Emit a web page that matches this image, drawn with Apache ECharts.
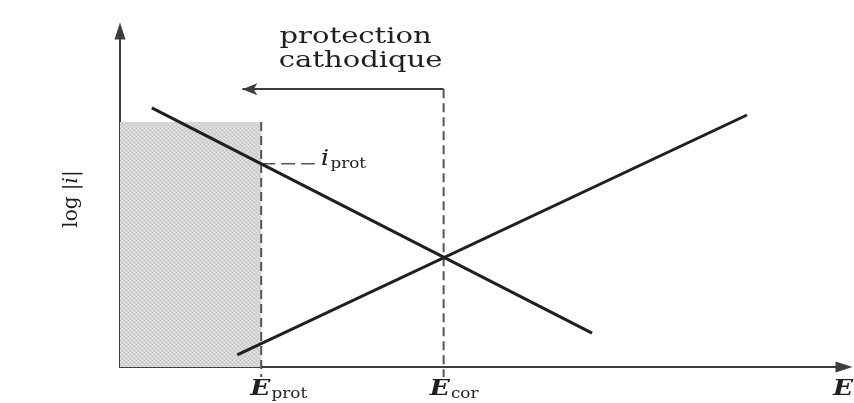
<!DOCTYPE html>
<html>
<head>
<meta charset="utf-8">
<script src="https://cdn.jsdelivr.net/npm/echarts@6/dist/echarts.min.js"></script>
<style>
  html, body { margin: 0; padding: 0; background: #fff; }
  #chart { width: 854px; height: 403px; }
</style>
</head>
<body>
<div id="chart"></div>
<script>
// Polarisation diagram: log|i| versus potential E (arbitrary units, 0–100)
const E_RANGE = [0, 100];
const LOGI_RANGE = [0, 100];

// Tafel lines
const cathodicLine = [[4.4, 77.1], [65.2, 10.1]];
const anodicLine = [[16.2, 3.6], [86.6, 75.0]];

// Characteristic potentials and current
const E_prot = 19.5;
const E_cor = 44.7;
const i_prot = 60.5;

// Protected domain and annotation levels
const protectedTop = 72.9;
const arrowLevel = 82.7;
const arrowEnd = 16.9;
const guideBottom = -3;
const iprotDashEnd = 26.9;

// Text
const titleLines = ['protection', 'cathodique'];
const xName = 'E';

const chart = echarts.init(document.getElementById('chart'), null, { renderer: 'canvas' });

const ink = '#1f1f1f';
const guide = '#555555';
const serif = '"DejaVu Serif", "Liberation Serif", serif';

// light stippled fill for the protected domain
const tile = document.createElement('canvas');
tile.width = 4; tile.height = 4;
const tg = tile.getContext('2d');
tg.fillStyle = '#d6d6d6'; tg.fillRect(0, 0, 4, 4);
tg.fillStyle = '#c2c2c2'; tg.fillRect(0, 0, 1, 1); tg.fillRect(2, 2, 1, 1);
tg.fillStyle = '#e2e2e2'; tg.fillRect(2, 0, 1, 1); tg.fillRect(0, 2, 1, 1);

const axisCommon = {
  type: 'value',
  axisTick: { show: false },
  axisLabel: { show: false },
  splitLine: { show: false },
  axisLine: {
    show: true, onZero: false,
    symbol: ['none', 'triangle'], symbolSize: [11, 17],
    lineStyle: { color: '#3c3c3c', width: 2 }
  }
};

function segment(data, style, z) {
  return {
    type: 'line', data: data, symbol: 'none', clip: false, silent: true, z: z || 3,
    lineStyle: style
  };
}

const option = {
  animation: false,
  grid: { left: 120, right: 10, top: 31, bottom: 36 },
  xAxis: Object.assign({}, axisCommon, { min: E_RANGE[0], max: E_RANGE[1] }),
  yAxis: Object.assign({}, axisCommon, { min: LOGI_RANGE[0], max: LOGI_RANGE[1] }),
  series: [
    {
      type: 'line', data: [[E_RANGE[0], protectedTop], [E_prot, protectedTop]],
      symbol: 'none', silent: true, z: 1,
      lineStyle: { width: 0, opacity: 0 },
      areaStyle: { color: { image: tile, repeat: 'repeat' }, opacity: 1 }
    },
    segment([[E_prot, protectedTop], [E_prot, guideBottom]], { color: guide, width: 2, type: [9, 5] }),
    segment([[E_cor, arrowLevel], [E_cor, guideBottom]], { color: guide, width: 2, type: [9, 5] }),
    segment([[E_prot, i_prot], [iprotDashEnd, i_prot]], { color: guide, width: 1.5, type: [14, 6] }),
    segment(cathodicLine, { color: ink, width: 3 }, 4),
    segment(anodicLine, { color: ink, width: 3 }, 4),
    {
      type: 'line', data: [], silent: true,
      markLine: {
        silent: true, animation: false,
        label: { show: false },
        lineStyle: { color: '#3c3c3c', width: 2, type: 'solid' },
        data: [[
          { coord: [E_cor, arrowLevel], symbol: 'none' },
          { coord: [arrowEnd, arrowLevel], symbol: 'arrow', symbolSize: [9, 15] }
        ]]
      }
    }
  ]
};

chart.setOption(option);

const px = p => chart.convertToPixel({ gridIndex: 0 }, p);
const pCor = px([E_cor, arrowLevel]);
const pProtBase = px([E_prot, 0]);
const pCorBase = px([E_cor, 0]);
const pIprot = px([iprotDashEnd, i_prot]);
const pXEnd = px([E_RANGE[1], 0]);
const pMid = px([0, (LOGI_RANGE[0] + LOGI_RANGE[1]) / 2]);

const letterStyle = { fontSize: 22, fontFamily: serif, fontStyle: 'italic', fontWeight: 'bold', fill: ink, lineHeight: 24 };
const subStyle = { fontSize: 14, fontFamily: serif, fill: ink, verticalAlign: 'top', padding: [10, 0, 0, 1] };

function subscripted(x, y, main, sub, mainStyle) {
  return {
    type: 'text', x: x, y: y, scaleX: 1.2, silent: true,
    style: {
      text: '{m|' + main + '}{s|' + sub + '}',
      align: 'left', verticalAlign: 'middle',
      rich: { m: mainStyle, s: subStyle }
    }
  };
}

chart.setOption({
  graphic: [
    {
      type: 'text', x: pCor[0] - 88, y: pCor[1] - 52, scaleX: 1.32, silent: true,
      style: { text: titleLines[0], font: '500 22px ' + serif, fill: ink, align: 'center', verticalAlign: 'middle' }
    },
    {
      type: 'text', x: pCor[0] - 83, y: pCor[1] - 28, scaleX: 1.32, silent: true,
      style: { text: titleLines[1], font: '500 22px ' + serif, fill: ink, align: 'center', verticalAlign: 'middle' }
    },
    subscripted(pProtBase[0] - 11, pProtBase[1] + 22, 'E', 'prot', letterStyle),
    subscripted(pCorBase[0] - 14, pCorBase[1] + 22, 'E', 'cor', letterStyle),
    subscripted(pIprot[0] + 6, pIprot[1] - 4, 'i', 'prot',
      { fontSize: 22, fontFamily: serif, fontStyle: 'italic', fill: ink, lineHeight: 24 }),
    {
      type: 'text', x: pXEnd[0] - 1, y: pXEnd[1] + 22, scaleX: 1.2, silent: true,
      style: { text: xName, font: 'italic bold 22px ' + serif, fill: ink, align: 'center', verticalAlign: 'middle' }
    },
    {
      type: 'text', x: pMid[0] - 48, y: pMid[1], rotation: Math.PI / 2, silent: true,
      style: {
        text: '{a|log |}{b|i}{a||}', align: 'center', verticalAlign: 'middle',
        rich: {
          a: { fontSize: 20, fontFamily: serif, fill: ink },
          b: { fontSize: 20, fontFamily: serif, fontStyle: 'italic', fill: ink }
        }
      }
    }
  ]
});
</script>
</body>
</html>
